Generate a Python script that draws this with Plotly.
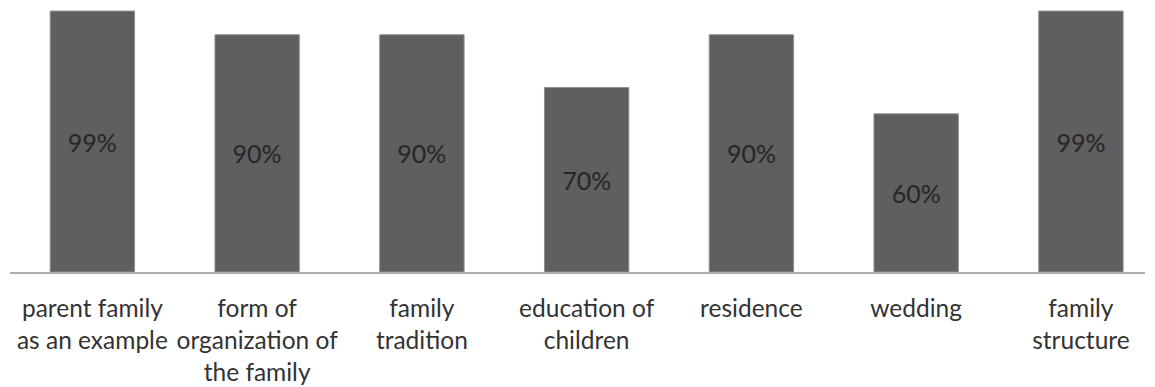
import plotly.graph_objects as go

categories = [
    "parent family<br>as an example",
    "form of<br>organization of<br>the family",
    "family<br>tradition",
    "education of<br>children",
    "residence",
    "wedding",
    "family<br>structure",
]
values = [99, 90, 90, 70, 90, 60, 99]
value_labels = ["99%", "90%", "90%", "70%", "90%", "60%", "99%"]

FONT = "Lato, Calibri, Carlito, sans-serif"

fig = go.Figure(
    go.Bar(
        x=list(range(len(categories))),
        y=values,
        text=value_labels,
        textposition="inside",
        insidetextanchor="middle",
        textangle=0,
        textfont=dict(family=FONT, size=25, color="#262626"),
        marker=dict(color="#5f5f5f", line=dict(color="#8f8f8f", width=1)),
        hoverinfo="skip",
    )
)

fig.update_layout(
    width=1155,
    height=387,
    margin=dict(l=10, r=10, t=0, b=114.5),
    paper_bgcolor="white",
    plot_bgcolor="white",
    bargap=0.488,
    showlegend=False,
    uniformtext=dict(mode=False),
)
fig.update_xaxes(
    range=[-0.5, 6.389],
    tickmode="array",
    tickvals=list(range(len(categories))),
    ticktext=categories,
    tickangle=0,
    tickfont=dict(family=FONT, size=24.5, color="#333333"),
    showline=True,
    linecolor="#b0b0b0",
    linewidth=1.5,
    showgrid=False,
    zeroline=False,
    ticks="outside",
    ticklen=14,
    tickcolor="rgba(0,0,0,0)",
)
fig.update_yaxes(
    range=[0, 103.2],
    visible=False,
    showgrid=False,
    zeroline=False,
)

fig.write_html(
    "out.html",
    config={"displayModeBar": False, "staticPlot": True},
    post_script="document.body.style.margin='0';document.body.style.overflow='hidden';",
)
